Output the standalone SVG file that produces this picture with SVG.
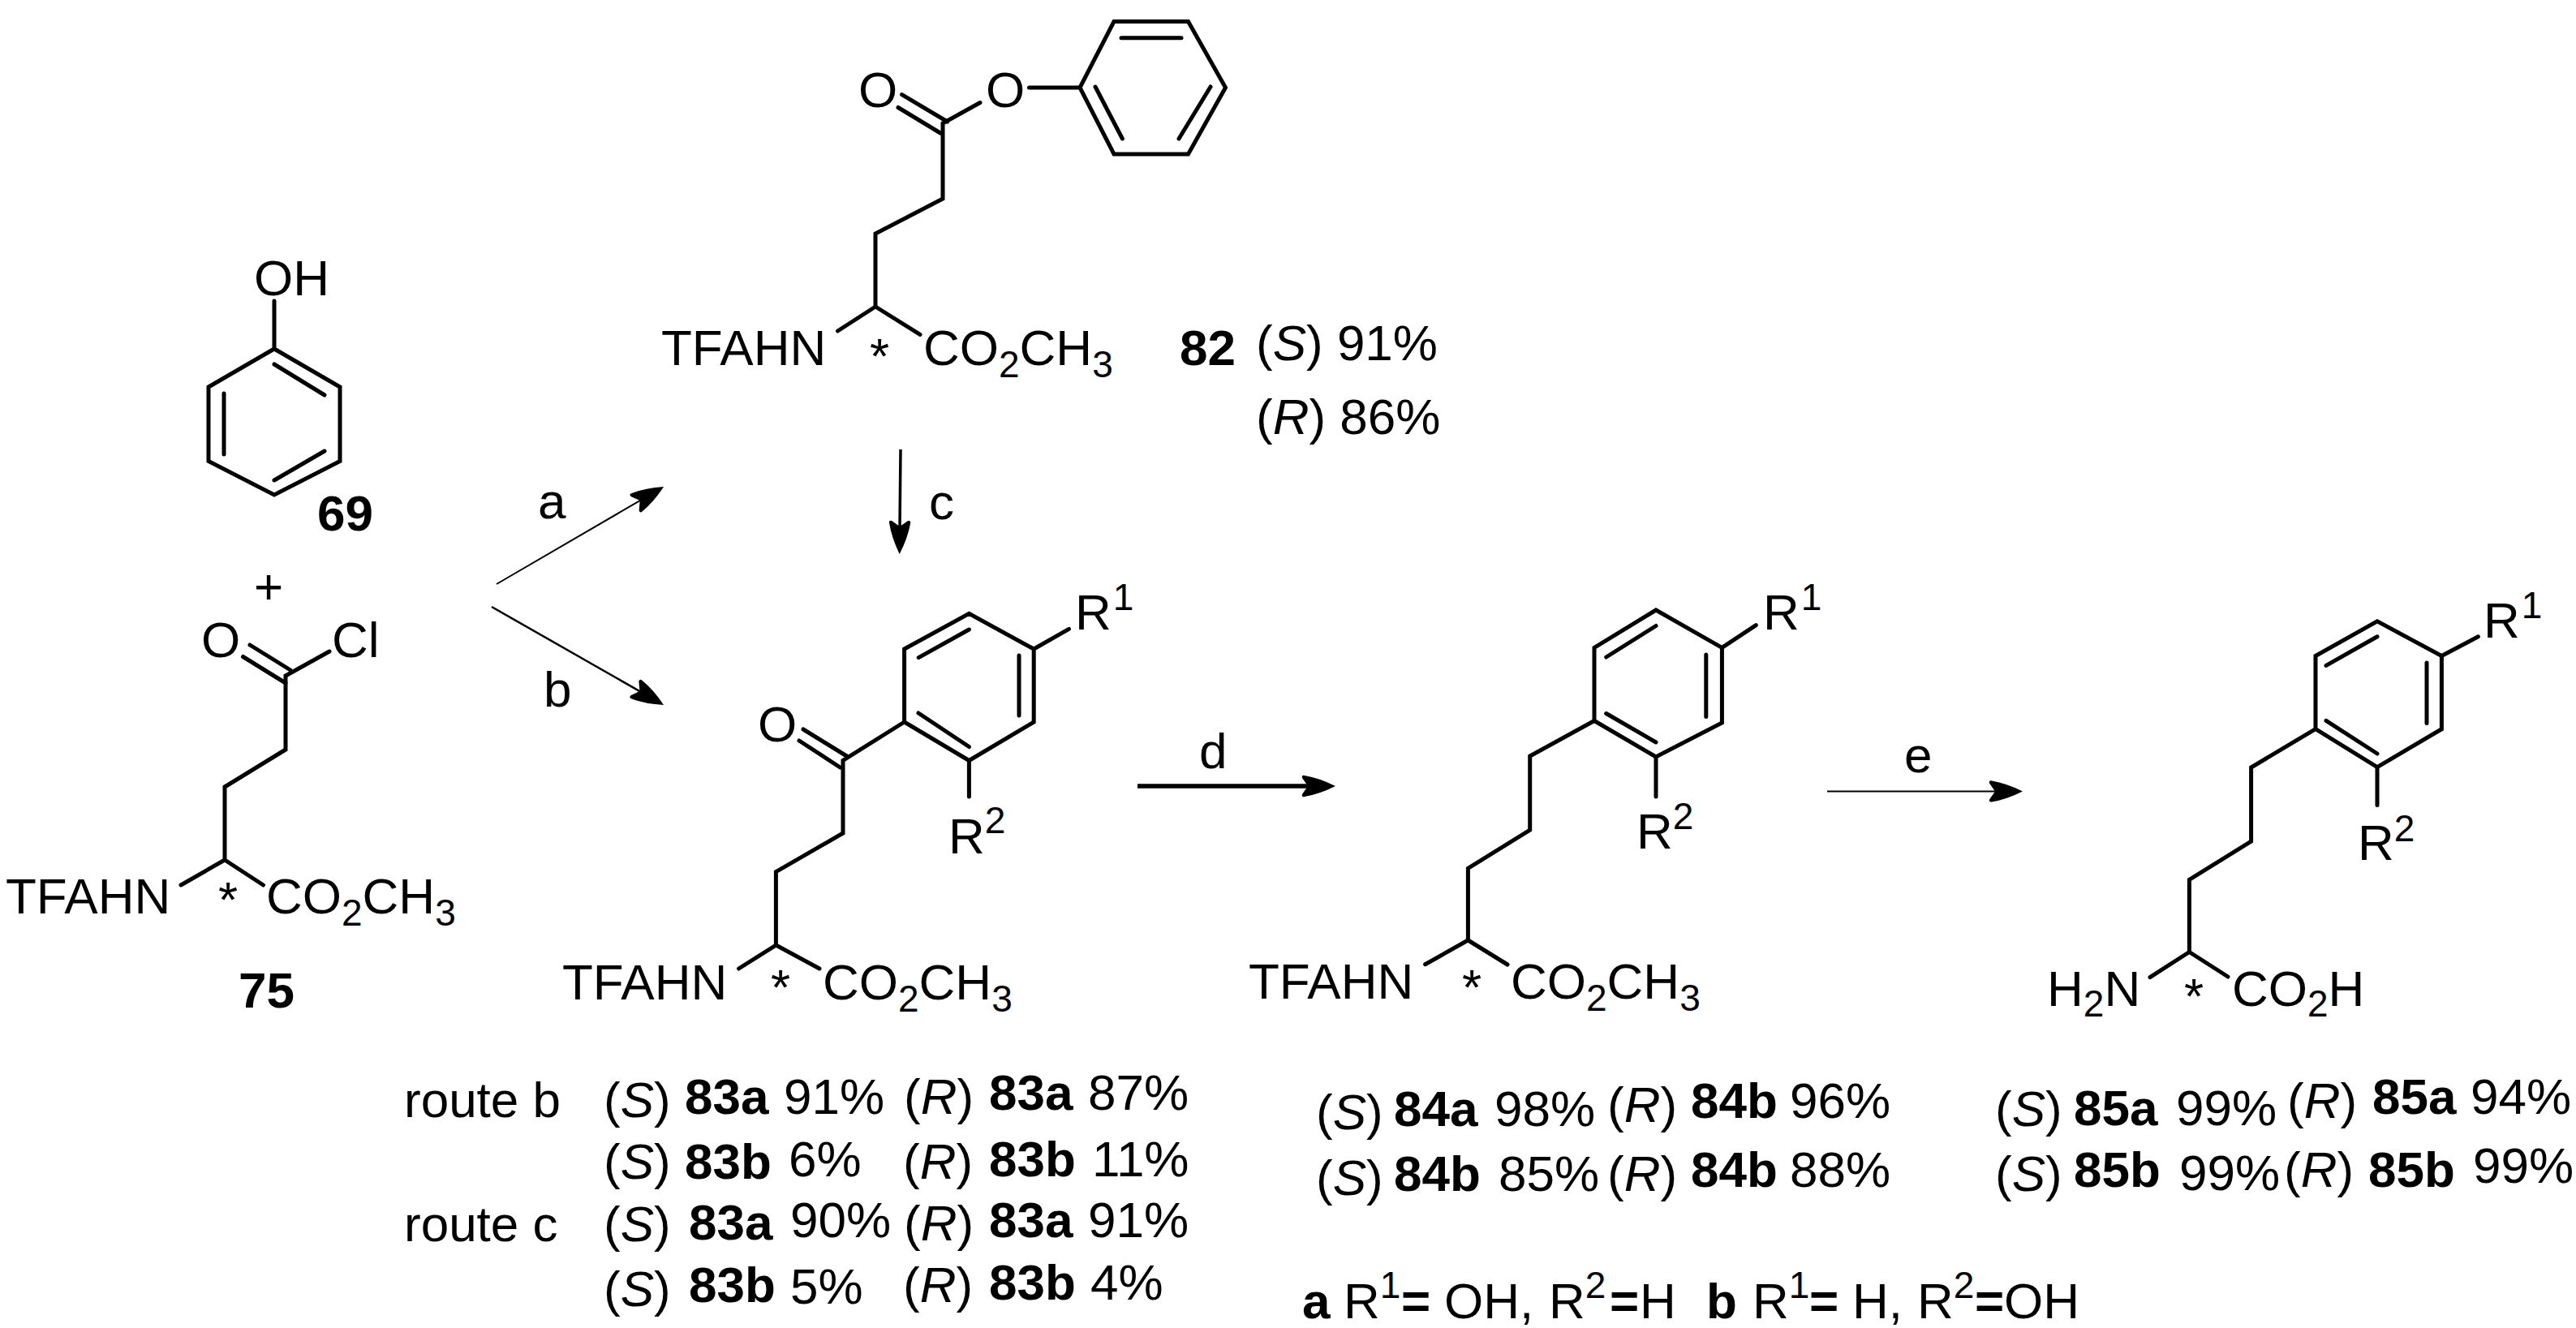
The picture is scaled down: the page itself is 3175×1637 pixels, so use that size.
<svg xmlns="http://www.w3.org/2000/svg" width="3175" height="1637" viewBox="0 0 3175 1637">
<style>
text{font-family:"Liberation Sans",Arial,sans-serif;font-size:62px;fill:#000}
.b{font-weight:bold}
.i{font-style:italic}
.s{font-size:46px}
.bond{fill:none;stroke:#000;stroke-width:5;stroke-linejoin:miter;stroke-linecap:round}
.arrow{fill:none;stroke:#000;marker-end:url(#head)}
</style>
<defs>
<marker id="head" markerUnits="userSpaceOnUse" markerWidth="44" markerHeight="28" viewBox="0 0 44 28" refX="10" refY="14" orient="auto">
<path d="M42 14Q22 4 4 1Q0 0 1 4L8 14L1 24Q0 28 4 27Q22 24 42 14Z" fill="#000"/>
</marker>
</defs>
<rect width="3175" height="1637" fill="#fff"/>

<g id="connectors">
<line class="arrow" stroke-width="2" x1="612" y1="720" x2="790.4" y2="616.1"/>
<line class="arrow" stroke-width="2.5" x1="606" y1="748" x2="790.2" y2="853.1"/>
<line class="arrow" stroke-width="3.5" x1="1110" y1="554" x2="1109" y2="651"/>
<line class="arrow" stroke-width="5.5" x1="1402" y1="969" x2="1614" y2="969"/>
<line class="arrow" stroke-width="2" x1="2252" y1="975.4" x2="2461" y2="975.4"/>
<text x="663" y="639">a</text>
<text x="670" y="871">b</text>
<text x="1145" y="640">c</text>
<text x="1478" y="947">d</text>
<text x="2347" y="952">e</text>
</g>

<g id="compound-69">
<path class="bond" d="M338 371V430L419 477V568.5L338 610L257 568.5V477L338 430"/>
<path class="bond" d="M338 449L400 487M276 485V560M338 592L400 556"/>
<text x="313" y="364">OH</text>
<text class="b" x="391" y="654">69</text>
</g>

<text id="plus" x="313" y="744">+</text>

<g id="compound-75">
<path class="bond" d="M406 803L352 833V924L277 970V1060L223 1091M277 1060L324.5 1091"/>
<path class="bond" d="M308 795L358 826M299.5 809.5L352 842"/>
<text x="248" y="810">O</text>
<text x="409" y="810">Cl</text>
<text x="7" y="1126">TFAHN</text>
<text x="269" y="1130">*</text>
<text x="328" y="1126">CO<tspan class="s" dy="15">2</tspan><tspan dy="-15">CH</tspan><tspan class="s" dy="15">3</tspan></text>
<text class="b" x="294" y="1242">75</text>
</g>

<g id="compound-82">
<path class="bond" d="M1373 26.5H1464.5L1510.5 108L1464.5 190H1373L1331 108Z"/>
<path class="bond" d="M1382 46.7H1456M1350 107L1383.4 171M1492 107L1453 171M1268.5 108H1331"/>
<path class="bond" d="M1208 126.5L1162 152V245L1079 288V378L1032.5 408M1079 378L1134 412.4"/>
<path class="bond" d="M1111.6 116.6L1167.7 150M1107 132.5L1159 164"/>
<text x="1058" y="132">O</text>
<text x="1215" y="132">O</text>
<text x="815" y="450">TFAHN</text>
<text x="1072" y="460">*</text>
<text x="1138" y="450">CO<tspan class="s" dy="15">2</tspan><tspan dy="-15">CH</tspan><tspan class="s" dy="15">3</tspan></text>
<text class="b" x="1454" y="450">82</text>
<text x="1548" y="444">(<tspan class="i">S</tspan>) 91%</text>
<text x="1548" y="535">(<tspan class="i">R</tspan>) 86%</text>
</g>

<g id="compound-83">
<path class="bond" d="M1114.6 890V800L1194.4 756.4L1274.2 800V890L1194.4 937.5Z"/>
<path class="bond" d="M1132.2 810.6L1194.4 776M1256 808V882M1132 879L1194.4 920.5M1274.2 800L1317.5 775.4M1194.4 937.5V982"/>
<path class="bond" d="M1114.6 890L1039 937.5V1027L956.4 1074.7V1165L910.5 1194M956.4 1165L1010 1194"/>
<path class="bond" d="M990 899L1043.6 932M985 913L1035.5 946"/>
<text x="934" y="914">O</text>
<text x="1325" y="776">R<tspan class="s" dx="2" dy="-24">1</tspan></text>
<text x="1169" y="1052">R<tspan class="s" dy="-25">2</tspan></text>
<text x="693" y="1232">TFAHN</text>
<text x="950" y="1238">*</text>
<text x="1014" y="1232">CO<tspan class="s" dy="15">2</tspan><tspan dy="-15">CH</tspan><tspan class="s" dy="15">3</tspan></text>
</g>

<g id="compound-84">
<path class="bond" d="M1965 888.5V798.4L2041 752L2122.4 798.4V891L2041 933Z"/>
<path class="bond" d="M1979.7 810L2041 771.5M2102.8 807V883.4M1979.7 879.5L2041 915M2122.4 798.4L2164.3 770.7M2041 933V982"/>
<path class="bond" d="M1965 888.5L1885.7 932V1023L1809.4 1070.4V1159L1756.6 1188.7M1809.4 1159L1858 1189"/>
<text x="2173" y="776">R<tspan class="s" dx="2" dy="-24">1</tspan></text>
<text x="2017" y="1046">R<tspan class="s" dy="-24">2</tspan></text>
<text x="1539" y="1231">TFAHN</text>
<text x="1802" y="1238">*</text>
<text x="1862" y="1231">CO<tspan class="s" dy="15">2</tspan><tspan dy="-15">CH</tspan><tspan class="s" dy="15">3</tspan></text>
</g>

<g id="compound-85">
<path class="bond" d="M2854 898.7V808.5L2930 765.8L3009.4 808.5V898.7L2930 945.7Z"/>
<path class="bond" d="M2867 820.4L2930 784.8M2991 817V891.5M2867 888.4L2930 929M3009.4 808.5L3054.4 784.8M2930 945.7V992.4"/>
<path class="bond" d="M2854 898.7L2774.6 946V1037L2698.4 1084.5V1173.5L2650 1204.7M2698.4 1173.5L2746 1204"/>
<text x="3061" y="786">R<tspan class="s" dx="2" dy="-24">1</tspan></text>
<text x="2906" y="1060">R<tspan class="s" dy="-23">2</tspan></text>
<text x="2523" y="1240">H<tspan class="s" dy="13">2</tspan><tspan dy="-13">N</tspan></text>
<text x="2692" y="1249">*</text>
<text x="2751" y="1240">CO<tspan class="s" dy="13">2</tspan><tspan dy="-13">H</tspan></text>
</g>

<g id="yields-83">
<text x="498" y="1377">route b</text>
<text x="744" y="1377">(<tspan class="i">S</tspan>)</text>
<text class="b" x="844" y="1373">83a</text>
<text x="966" y="1373">91%</text>
<text x="1114" y="1373">(<tspan class="i">R</tspan>)</text>
<text class="b" x="1219" y="1368">83a</text>
<text x="1341" y="1368">87%</text>
<text x="744" y="1453">(<tspan class="i">S</tspan>)</text>
<text class="b" x="844" y="1453">83b</text>
<text x="972" y="1450">6%</text>
<text x="1113" y="1453">(<tspan class="i">R</tspan>)</text>
<text class="b" x="1219" y="1450">83b</text>
<text x="1346" y="1450">11%</text>
<text x="498" y="1530">route c</text>
<text x="744" y="1530">(<tspan class="i">S</tspan>)</text>
<text class="b" x="849" y="1528">83a</text>
<text x="974" y="1525">90%</text>
<text x="1114" y="1529">(<tspan class="i">R</tspan>)</text>
<text class="b" x="1219" y="1525">83a</text>
<text x="1341" y="1525">91%</text>
<text x="744" y="1610">(<tspan class="i">S</tspan>)</text>
<text class="b" x="849" y="1605">83b</text>
<text x="974" y="1607">5%</text>
<text x="1113" y="1605">(<tspan class="i">R</tspan>)</text>
<text class="b" x="1219" y="1602">83b</text>
<text x="1344" y="1602">4%</text>
</g>

<g id="yields-84">
<text x="1622" y="1392">(<tspan class="i">S</tspan>)</text>
<text class="b" x="1718" y="1388">84a</text>
<text x="1842" y="1388">98%</text>
<text x="1981" y="1383">(<tspan class="i">R</tspan>)</text>
<text class="b" x="2084" y="1378">84b</text>
<text x="2206" y="1378">96%</text>
<text x="1622" y="1473">(<tspan class="i">S</tspan>)</text>
<text class="b" x="1718" y="1468">84b</text>
<text x="1847" y="1468">85%</text>
<text x="1981" y="1468">(<tspan class="i">R</tspan>)</text>
<text class="b" x="2084" y="1463">84b</text>
<text x="2206" y="1463">88%</text>
</g>

<g id="yields-85">
<text x="2459" y="1388">(<tspan class="i">S</tspan>)</text>
<text class="b" x="2556" y="1387">85a</text>
<text x="2682" y="1387">99%</text>
<text x="2819" y="1378">(<tspan class="i">R</tspan>)</text>
<text class="b" x="2924" y="1373">85a</text>
<text x="3045" y="1373">94%</text>
<text x="2459" y="1468">(<tspan class="i">S</tspan>)</text>
<text class="b" x="2556" y="1463">85b</text>
<text x="2686" y="1467">99%</text>
<text x="2815" y="1463">(<tspan class="i">R</tspan>)</text>
<text class="b" x="2919" y="1463">85b</text>
<text x="3048" y="1458">99%</text>
</g>

<g id="legend">
<text class="b" x="1605" y="1625">a</text>
<text x="1656" y="1625">R<tspan class="s" dy="-25">1</tspan></text>
<text class="b" x="1727" y="1625">=</text>
<text x="1780" y="1625">OH,</text>
<text x="1909" y="1625">R<tspan class="s" dy="-25">2</tspan></text>
<text class="b" x="1984" y="1625">=</text>
<text x="2021" y="1625">H</text>
<text class="b" x="2103" y="1625">b</text>
<text x="2160" y="1625">R<tspan class="s" dy="-25">1</tspan></text>
<text class="b" x="2230" y="1625">=</text>
<text x="2283" y="1625">H,</text>
<text x="2363" y="1625">R<tspan class="s" dy="-25">2</tspan></text>
<text class="b" x="2434" y="1625">=</text>
<text x="2470" y="1625">OH</text>
</g>
</svg>
